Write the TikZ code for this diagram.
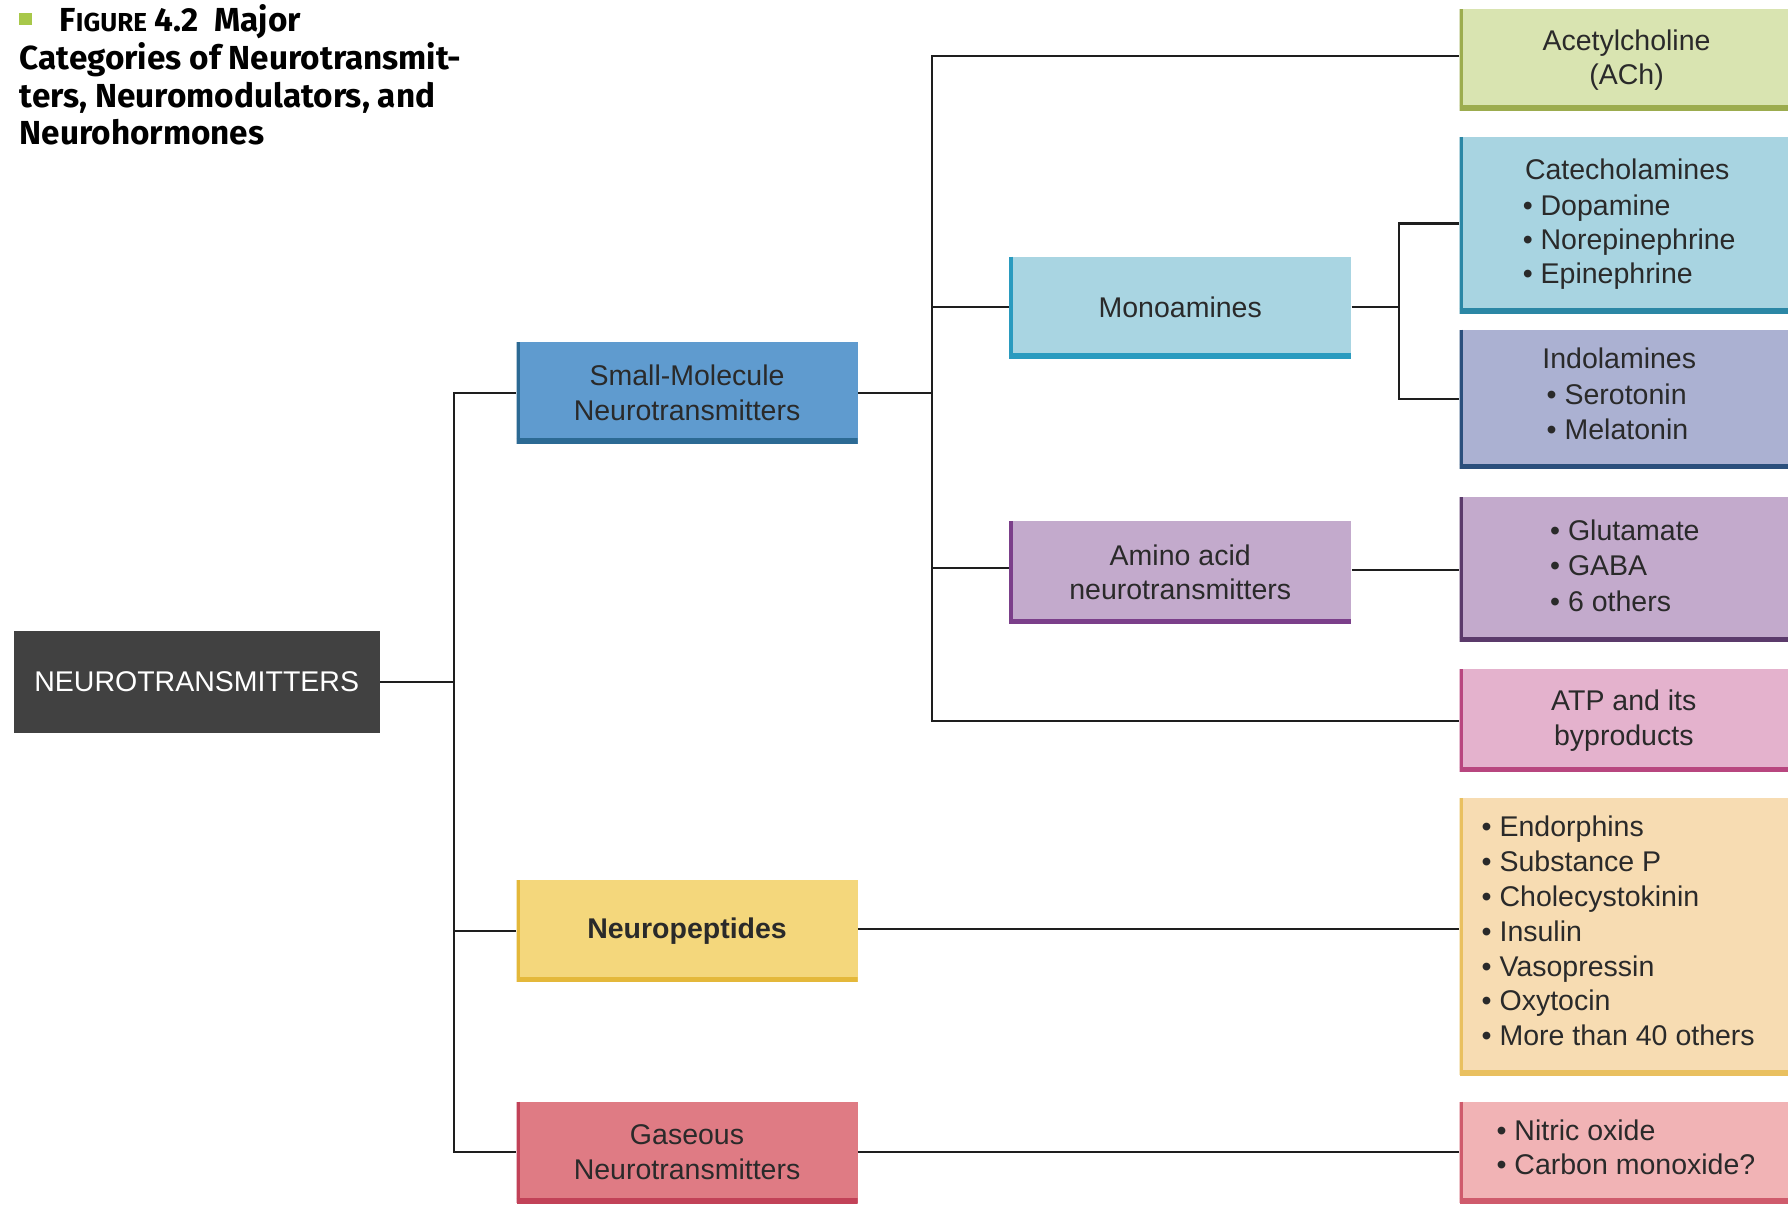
\documentclass[tikz,border=0pt]{standalone}
\usepackage{fontspec}
\setmainfont{Liberation Sans}
\newfontfamily\titlefont{Fira Sans}
\definecolor{txt}{HTML}{2A2A2A}
\definecolor{linec}{HTML}{1E1E1E}
\definecolor{sqgreen}{HTML}{A8C84A}
\definecolor{fNeuro}{HTML}{414141}
\definecolor{fSmall}{HTML}{5F9BCF}\definecolor{bSmall}{HTML}{2C6A94}
\definecolor{fMono}{HTML}{A9D5E2}\definecolor{bMono}{HTML}{2A9BBF}
\definecolor{fAmino}{HTML}{C3AACC}\definecolor{bAmino}{HTML}{7B3F8A}
\definecolor{fAch}{HTML}{D9E4B1}\definecolor{bAch}{HTML}{9CAC4E}
\definecolor{fCat}{HTML}{A8D4E1}\definecolor{bCat}{HTML}{2B87A5}
\definecolor{fInd}{HTML}{ABB1D2}\definecolor{bInd}{HTML}{2B4F7C}
\definecolor{fGlu}{HTML}{C3AACC}\definecolor{bGlu}{HTML}{5B3A6B}
\definecolor{fAtp}{HTML}{E4B2CD}\definecolor{bAtp}{HTML}{B8467F}
\definecolor{fPl}{HTML}{F7DCB2}\definecolor{bPl}{HTML}{E9C060}
\definecolor{fPep}{HTML}{F4D77C}\definecolor{bPep}{HTML}{E4B83A}
\definecolor{fGas}{HTML}{DF7B84}\definecolor{bGas}{HTML}{C24258}
\definecolor{fNo}{HTML}{F1B3B5}\definecolor{bNo}{HTML}{CF5B6C}
\newcommand{\mybox}[8]{%
  \node[box={#6}{#7}, minimum width={(#4-#2)*0.5pt}, minimum height={(#5-#3)*0.5pt}]
    (#1) at ({(#2+#4)/2},{(#3+#5)/2}) {#8};}
\begin{document}
\begin{tikzpicture}[x=0.5pt,y=-0.5pt,
  every node/.style={font=\fontsize{12.5pt}{15pt}\selectfont, text=txt},
  conn/.style={draw=linec, line width=1pt},
  box/.style 2 args={rectangle, inner sep=0pt, fill=#1, align=center,
    path picture={
      \draw[#2, line width=3pt] (path picture bounding box.north west) -- (path picture bounding box.south west);
      \draw[#2, line width=4.5pt] (path picture bounding box.south west) -- (path picture bounding box.south east);}},
  titletext/.style={anchor=base west, inner sep=0pt, text=black, font=\titlefont\bfseries\fontsize{14.6pt}{16.5pt}\selectfont},
  item/.style={anchor=base west, inner sep=0pt},
  head/.style={anchor=base, inner sep=0pt},
]
\useasboundingbox (0,0) rectangle (1568,1057.6);

% title
\fill[sqgreen] (17,11) rectangle (28,22);
\node[titletext] (t1) at (52,28) {F{\fontsize{11.4pt}{12pt}\selectfont IGURE} 4.2\ \ Major};
\node[titletext] (t2) at (17,61) {Categories of Neurotransmit-};
\node[titletext] (t3) at (17,94) {ters, Neuromodulators, and};
\node[titletext] (t4) at (17,127) {Neurohormones};

% boxes
\node[rectangle, inner sep=0pt, fill=fNeuro, minimum width={321*0.5pt}, minimum height={90*0.5pt}, text=white]
  (neuro) at (172.5,598) {NEUROTRANSMITTERS};
\mybox{small}{453}{300}{752}{389}{fSmall}{bSmall}{Small-Molecule\\Neurotransmitters}
\mybox{pep}{453}{772}{752}{861}{fPep}{bPep}{\bfseries Neuropeptides}
\mybox{gas}{453}{966}{752}{1055}{fGas}{bGas}{Gaseous\\Neurotransmitters}
\mybox{mono}{885}{225}{1185}{314}{fMono}{bMono}{Monoamines}
\mybox{amino}{885}{457}{1185}{547}{fAmino}{bAmino}{Amino acid\\neurotransmitters}
\mybox{ach}{1280}{8}{1568}{97}{fAch}{bAch}{\hspace*{6\pgflinewidth}Acetylcholine\\\hspace*{6\pgflinewidth}(ACh)}
\mybox{cat}{1280}{120}{1568}{275}{fCat}{bCat}{}
\mybox{ind}{1280}{289}{1568}{411}{fInd}{bInd}{}
\mybox{glu}{1280}{436}{1568}{563}{fGlu}{bGlu}{}
\mybox{atp}{1280}{587}{1568}{677}{fAtp}{bAtp}{ATP and its\\byproducts}
\mybox{plist}{1280}{700}{1568}{943}{fPl}{bPl}{}
\mybox{no}{1280}{966}{1568}{1055}{fNo}{bNo}{}

% list texts
\node[head] (cath) at (1427,157) {Catecholamines};
\foreach \t [count=\i] in {Dopamine,Norepinephrine,Epinephrine}
  \node[item] (cat\i) at (1335,{189+30*(\i-1)}) {\textbullet\ \t};
\node[head] (indh) at (1420,323) {Indolamines};
\foreach \t [count=\i] in {Serotonin,Melatonin}
  \node[item] (ind\i) at (1356,{355+30*(\i-1)}) {\textbullet\ \t};
\foreach \t [count=\i] in {Glutamate,GABA,6 others}
  \node[item] (glu\i) at (1359,{474+31*(\i-1)}) {\textbullet\ \t};
\foreach \t [count=\i] in {Endorphins,Substance P,Cholecystokinin,Insulin,Vasopressin,Oxytocin,More than 40 others}
  \node[item] (pl\i) at (1299,{734+30.5*(\i-1)}) {\textbullet\ \t};
\foreach \t [count=\i] in {Nitric oxide,Carbon monoxide?}
  \node[item] (no\i) at (1312,{1000+30*(\i-1)}) {\textbullet\ \t};

% connectors
\coordinate (j1) at (398,598);
\coordinate (j2) at (817,344.5);
\coordinate (j3) at (1227,269.5);
\draw[conn] (neuro.east) -- (j1);
\draw[conn] (small.west) -| (j1) |- (gas.west);
\draw[conn] (pep.west) -- (pep.west -| j1);
\draw[conn] (small.east) -- (j2);
\draw[conn] ([yshift=1.75pt]ach.west) -| (j2) |- (atp.west);
\draw[conn] (mono.west) -- (mono.west -| j2);
\draw[conn] ([yshift=2pt]amino.west) -- ([yshift=2pt]amino.west -| j2);
\draw[conn] (mono.east) -- (j3);
\draw[conn] ([yshift=0.75pt]cat.west) -| (j3) |- (ind.west);
\draw[conn] ([yshift=1pt]amino.east) -- ([yshift=1pt]amino.east -| glu.west);
\draw[conn] ([yshift=0.75pt]pep.east) -- ([yshift=0.75pt]pep.east -| plist.west);
\draw[conn] (gas.east) -- (no.west);
\end{tikzpicture}
\end{document}
